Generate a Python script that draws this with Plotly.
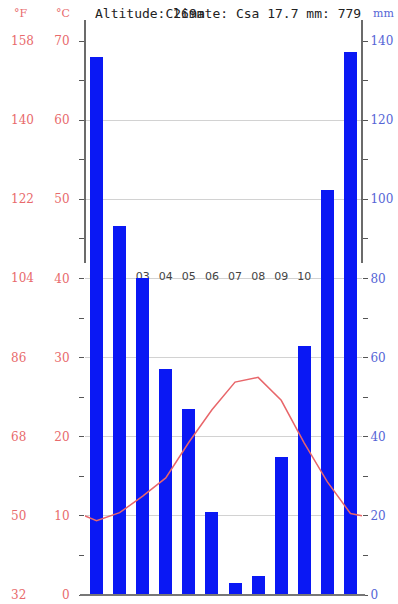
import plotly.graph_objects as go

# Monthly climate normals
months = ["01", "02", "03", "04", "05", "06", "07", "08", "09", "10", "11", "12"]
temp_c = [9.4, 10.4, 12.5, 14.8, 19.3, 23.4, 26.9, 27.5, 24.6, 19.2, 14.3, 10.3]
precip_mm = [136.0, 93.3, 80.0, 57.0, 46.9, 20.9, 3.0, 4.9, 35.0, 62.9, 102.3, 137.1]
# temperature where the curve wraps around the year (start of Jan / end of Dec)
wrap_temp_c = [10.0, 10.0]

# Axis ticks
c_ticks = [0, 10, 20, 30, 40, 50, 60, 70]
f_ticks = [32, 50, 68, 86, 104, 122, 140, 158]
mm_ticks = [0, 20, 40, 60, 80, 100, 120, 140]

header_left = "Altitude: 269m"
header_right = "Climate: Csa 17.7 mm: 779"

RED = "#e8666a"
RED_TXT = "#e86a6c"
BLUE = "#0a18f4"
BLUE_TXT = "#5565d6"
TICK = "#555555"
FRAME = "#3a3a3a"

month_pos = list(range(1, 13))
boundaries = [m - 0.5 for m in month_pos] + [12.5]

fig = go.Figure()

fig.add_trace(go.Bar(
    x=month_pos, y=precip_mm, width=0.56,
    marker=dict(color=BLUE, line=dict(width=0)),
    xaxis="x", yaxis="y", hoverinfo="skip",
))

fig.add_trace(go.Scatter(
    x=[0.5] + month_pos + [12.5],
    y=[wrap_temp_c[0]] + temp_c + [wrap_temp_c[1]],
    mode="lines", line=dict(color=RED, width=1.5),
    xaxis="x", yaxis="y2", hoverinfo="skip",
))

num_font = dict(family="DejaVu Serif", size=12)

# Fahrenheit scale, placed against the Celsius axis
annotations = []
for c, f in zip(c_ticks, f_ticks):
    annotations.append(dict(
        x=-0.275, xref="paper", xanchor="left",
        y=c, yref="y2", yanchor="middle",
        text=str(f), showarrow=False,
        font=dict(num_font, color=RED_TXT),
    ))

# unit labels above the scales
for txt, xp, col in [("°F", -0.232, RED_TXT), ("°C", -0.079, RED_TXT), ("mm", 1.079, BLUE_TXT)]:
    annotations.append(dict(
        x=xp, xref="paper", xanchor="center",
        y=1.049, yref="paper", yanchor="middle",
        text=txt, showarrow=False,
        font=dict(family="DejaVu Serif", size=11, color=col),
    ))

# header lines, both starting at the same point in a monospace font
mono = dict(family="DejaVu Sans Mono", size=13, color="#222222")
annotations.append(dict(
    x=0.03, xref="paper", xanchor="left", y=1.049, yref="paper", yanchor="middle",
    text=header_left, showarrow=False, font=mono,
))
annotations.append(dict(
    x=0.03, xref="paper", xanchor="left", y=1.049, yref="paper", yanchor="middle",
    text="\u00a0" * 9 + header_right, showarrow=False, font=mono,
))

box_bottom = 0.5993
box_top = 1.038

shapes = [
    dict(type="line", xref="paper", yref="paper", x0=0, x1=0, y0=box_bottom, y1=box_top,
         line=dict(color=FRAME, width=1.5)),
    dict(type="line", xref="paper", yref="paper", x0=1, x1=1, y0=box_bottom, y1=box_top,
         line=dict(color=FRAME, width=1.5)),
    dict(type="line", xref="paper", yref="paper", x0=-0.018, x1=1.011, y0=0, y1=0,
         line=dict(color="#777777", width=2)),
]

fig.update_layout(
    width=398, height=604,
    autosize=False,
    margin=dict(l=85, r=36, t=41, b=9, pad=0),
    paper_bgcolor="white", plot_bgcolor="white",
    showlegend=False,
    bargap=0,
    xaxis=dict(
        range=[0.5, 12.5], anchor="free", position=box_bottom,
        tickmode="array", tickvals=month_pos, ticktext=months,
        ticks="outside", ticklen=3, tickcolor="rgba(0,0,0,0)",
        tickfont=dict(family="DejaVu Sans", size=11, color="#444444"),
        showline=False, showgrid=False, zeroline=False,
        layer="below traces", fixedrange=True, automargin=False,
    ),
    xaxis2=dict(
        range=[0.5, 12.5], overlaying="x", anchor="free", position=box_bottom,
        tickmode="array", tickvals=boundaries,
        ticks="outside", ticklen=5, tickcolor=FRAME, tickwidth=1,
        showticklabels=False, showline=True, linecolor=FRAME, linewidth=1.5,
        showgrid=False, zeroline=False, layer="above traces", automargin=False,
    ),
    yaxis=dict(
        range=[0, 140], side="right", anchor="x",
        tickmode="array", tickvals=mm_ticks,
        ticks="outside", ticklen=5, tickcolor=TICK, tickwidth=1,
        minor=dict(dtick=10, tick0=0, ticks="outside", ticklen=5, tickcolor=TICK),
        tickfont=dict(num_font, color=BLUE_TXT), ticklabelstandoff=0,
        showgrid=True, gridcolor="#d2d2d2", gridwidth=1,
        showline=False, zeroline=False, automargin=False,
    ),
    yaxis2=dict(
        range=[0, 70], side="left", overlaying="y", anchor="x",
        tickmode="array", tickvals=c_ticks,
        ticks="outside", ticklen=5, tickcolor=TICK, tickwidth=1,
        minor=dict(dtick=5, tick0=0, ticks="outside", ticklen=5, tickcolor=TICK),
        tickfont=dict(num_font, color=RED_TXT), ticklabelstandoff=7,
        showgrid=False, showline=False, zeroline=False, automargin=False,
    ),
    annotations=annotations,
    shapes=shapes,
)

fig.write_html("out.html")
